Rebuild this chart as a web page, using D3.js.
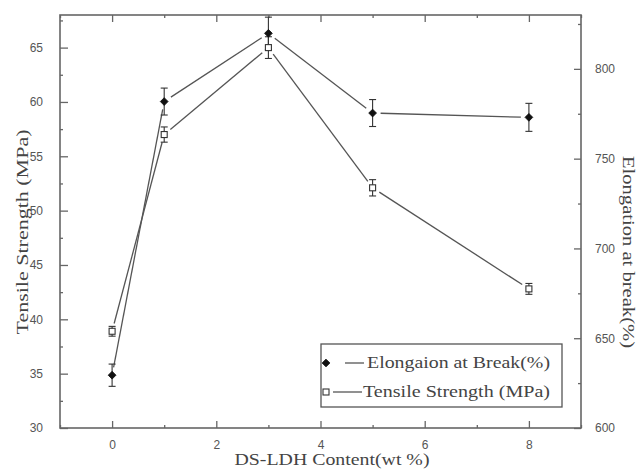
<!DOCTYPE html>
<html>
<head>
<meta charset="utf-8">
<script src="https://cdn.jsdelivr.net/npm/d3@7"></script>
<style>
  html, body { margin: 0; padding: 0; background: #fff; }
  svg { display: block; }
</style>
</head>
<body>
<svg id="chart" width="638" height="472"></svg>
<script>
// DS-LDH content (wt %)
const content = [0, 1, 3, 5, 8];
// Elongation at break (%), right axis
const elongation = [629.4, 781.8, 819.8, 775.4, 773.0];
const elongationErr = [6.2, 7.5, 9.0, 7.5, 7.8];
// Tensile strength (MPa), left axis
const tensile = [38.9, 57.0, 65.0, 52.1, 42.8];
const tensileErr = [0.45, 0.7, 1.0, 0.75, 0.5];

const xTicks = [0, 2, 4, 6, 8];
const leftTicks = [30, 35, 40, 45, 50, 55, 60, 65];
const rightTicks = [600, 650, 700, 750, 800];

const SERIF = "Liberation Serif";
const SANS = "Liberation Sans";

const svg = d3.select("#chart");
const plot = { left: 60, right: 581, top: 15, bottom: 428 };

const x = d3.scaleLinear().domain([-1, 9]).range([plot.left, plot.right]);
const yL = d3.scaleLinear().domain([30, 68]).range([plot.bottom, plot.top]);
const yR = d3.scaleLinear().domain([600, 830]).range([plot.bottom, plot.top]);

const axisColor = "#666";
const labelColor = "#555";

// Inward-pointing axes on all four sides, with minor ticks between majors
function styleAxis(g) {
  g.attr("font-family", SANS).attr("font-size", 12);
  g.select(".domain").remove();
  g.selectAll("line").attr("stroke", axisColor).attr("stroke-width", 1.3);
  g.selectAll("text").attr("fill", labelColor);
}

const xMinor = d3.range(-1, 10, 2);
const leftMinor = d3.range(32.5, 68, 5);
const rightMinor = d3.range(625, 830, 50);

// bottom
svg.append("g").attr("transform", `translate(0,${plot.bottom})`)
  .call(d3.axisBottom(x).tickValues(xTicks).tickSize(-7).tickPadding(12).tickFormat(d3.format("d")))
  .call(styleAxis);
svg.append("g").attr("transform", `translate(0,${plot.bottom})`)
  .call(d3.axisBottom(x).tickValues(xMinor).tickSize(-3).tickFormat(""))
  .call(styleAxis);
// top
svg.append("g").attr("transform", `translate(0,${plot.top})`)
  .call(d3.axisTop(x).tickValues(xTicks).tickSize(-7).tickFormat(""))
  .call(styleAxis);
svg.append("g").attr("transform", `translate(0,${plot.top})`)
  .call(d3.axisTop(x).tickValues(xMinor).tickSize(-3).tickFormat(""))
  .call(styleAxis);
// left
svg.append("g").attr("transform", `translate(${plot.left},0)`)
  .call(d3.axisLeft(yL).tickValues(leftTicks).tickSize(-8).tickPadding(17))
  .call(styleAxis);
svg.append("g").attr("transform", `translate(${plot.left},0)`)
  .call(d3.axisLeft(yL).tickValues(leftMinor).tickSize(-3).tickFormat(""))
  .call(styleAxis);
// right
svg.append("g").attr("transform", `translate(${plot.right},0)`)
  .call(d3.axisRight(yR).tickValues(rightTicks).tickSize(-7).tickPadding(14))
  .call(styleAxis);
svg.append("g").attr("transform", `translate(${plot.right},0)`)
  .call(d3.axisRight(yR).tickValues(rightMinor).tickSize(-3).tickFormat(""))
  .call(styleAxis);

// frame
svg.append("rect")
  .attr("x", plot.left).attr("y", plot.top)
  .attr("width", plot.right - plot.left).attr("height", plot.bottom - plot.top)
  .attr("fill", "none").attr("stroke", axisColor).attr("stroke-width", 1.6);

// axis titles
svg.append("text").attr("font-family", SERIF)
  .attr("transform", `translate(28,232) rotate(-90)`)
  .attr("text-anchor", "middle")
  .attr("textLength", 205).attr("lengthAdjust", "spacingAndGlyphs")
  .attr("font-size", 17).attr("fill", "#444")
  .text("Tensile Strength (MPa)");

svg.append("text").attr("font-family", SERIF)
  .attr("transform", `translate(623,252) rotate(90)`)
  .attr("text-anchor", "middle")
  .attr("textLength", 192).attr("lengthAdjust", "spacingAndGlyphs")
  .attr("font-size", 17).attr("fill", "#444")
  .text("Elongation at break(%)");

svg.append("text").attr("font-family", SERIF)
  .attr("x", 332).attr("y", 465)
  .attr("text-anchor", "middle")
  .attr("textLength", 195).attr("lengthAdjust", "spacingAndGlyphs")
  .attr("font-size", 16).attr("fill", "#444")
  .text("DS-LDH Content(wt %)");

// connecting lines, leaving a small gap around each marker
function drawSeries(xs, ys, yScale, gap) {
  const pts = xs.map((d, i) => [x(d), yScale(ys[i])]);
  const segs = d3.pairs(pts).map(([a, b]) => {
    const dx = b[0] - a[0], dy = b[1] - a[1];
    const len = Math.hypot(dx, dy);
    const ux = dx / len, uy = dy / len;
    return [a[0] + ux * gap, a[1] + uy * gap, b[0] - ux * gap, b[1] - uy * gap];
  });
  svg.append("g").selectAll("line").data(segs).join("line")
    .attr("x1", d => d[0]).attr("y1", d => d[1])
    .attr("x2", d => d[2]).attr("y2", d => d[3])
    .attr("stroke", "#555").attr("stroke-width", 1.3);
}

function drawErrors(xs, ys, errs, yScale) {
  const g = svg.append("g").attr("stroke", "#333").attr("stroke-width", 1.1);
  xs.forEach((d, i) => {
    const cx = x(d), y0 = yScale(ys[i] - errs[i]), y1 = yScale(ys[i] + errs[i]);
    const top = Math.max(y1, plot.top);
    g.append("line").attr("x1", cx).attr("x2", cx).attr("y1", y0).attr("y2", top);
    g.append("line").attr("x1", cx - 3.5).attr("x2", cx + 3.5).attr("y1", y0).attr("y2", y0);
    if (y1 >= plot.top)
      g.append("line").attr("x1", cx - 3.5).attr("x2", cx + 3.5).attr("y1", y1).attr("y2", y1);
  });
}

drawSeries(content, elongation, yR, 8);
drawSeries(content, tensile, yL, 8);
drawErrors(content, elongation, elongationErr, yR);
drawErrors(content, tensile, tensileErr, yL);

// filled diamonds: elongation
const diamond = d3.symbol().type(d3.symbolSquare).size(30);
svg.append("g").selectAll("path").data(content).join("path")
  .attr("transform", (d, i) => `translate(${x(d)},${yR(elongation[i])}) rotate(45)`)
  .attr("d", diamond).attr("fill", "#111").attr("stroke", "#111").attr("stroke-width", 0.8);

// open squares: tensile strength
svg.append("g").selectAll("rect").data(content).join("rect")
  .attr("x", d => x(d) - 3).attr("y", (d, i) => yL(tensile[i]) - 3)
  .attr("width", 6).attr("height", 6)
  .attr("fill", "#fff").attr("stroke", "#333").attr("stroke-width", 1.1);

// legend
const legend = svg.append("g");
legend.append("rect")
  .attr("x", 321).attr("y", 344).attr("width", 241).attr("height", 63)
  .attr("fill", "#fff").attr("stroke", "#555").attr("stroke-width", 1.3);
legend.append("path")
  .attr("transform", "translate(326,363) rotate(45)").attr("d", diamond)
  .attr("fill", "#111").attr("stroke", "#111").attr("stroke-width", 0.8);
legend.append("line").attr("x1", 345).attr("x2", 364).attr("y1", 363).attr("y2", 363)
  .attr("stroke", "#555").attr("stroke-width", 1.3);
legend.append("text").attr("font-family", SERIF).attr("x", 367).attr("y", 368)
  .attr("textLength", 183).attr("lengthAdjust", "spacingAndGlyphs")
  .attr("font-size", 17).attr("fill", "#444")
  .text("Elongaion at Break(%)");
legend.append("rect").attr("x", 323).attr("y", 389).attr("width", 6).attr("height", 6)
  .attr("fill", "#fff").attr("stroke", "#333").attr("stroke-width", 1.1);
legend.append("line").attr("x1", 333).attr("x2", 362).attr("y1", 392).attr("y2", 392)
  .attr("stroke", "#555").attr("stroke-width", 1.3);
legend.append("text").attr("font-family", SERIF).attr("x", 363).attr("y", 397)
  .attr("textLength", 187).attr("lengthAdjust", "spacingAndGlyphs")
  .attr("font-size", 17).attr("fill", "#444")
  .text("Tensile Strength (MPa)");
</script>
</body>
</html>
